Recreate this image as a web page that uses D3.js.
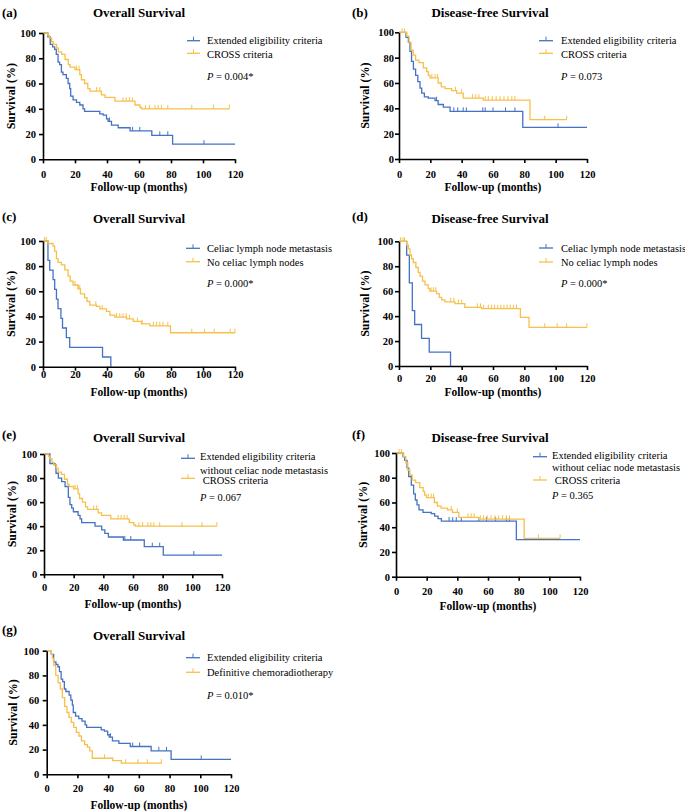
<!DOCTYPE html>
<html><head><meta charset="utf-8">
<script src="https://cdn.jsdelivr.net/npm/d3@7"></script>
<style>body{margin:0;background:#fff}svg{display:block}</style>
</head><body>
<svg id="chart" width="685" height="811"></svg>
<script>
// ---------- tick labels ----------
const xTicks = [0, 20, 40, 60, 80, 100, 120];
const yTicks = [0, 20, 40, 60, 80, 100];

// ---------- Kaplan-Meier step data (time in months, survival %) ----------
// Extended eligibility criteria, overall survival (panels a, g)
const extOS_t = [0, 3, 4.5, 6, 7.3, 8.3, 9.4, 10.4, 11.5, 12.5, 14.6, 15.7, 16.7, 17.3, 18.8, 20.9, 23, 25, 26, 35.5, 37.6, 39.7, 40.7, 42.8, 47, 54.4, 68, 81];
const extOS_s = [100, 97, 91, 89, 87, 83, 77, 75, 69, 67, 64, 60, 56, 50, 47, 45, 43, 40, 38, 36, 35, 32, 30, 27, 25, 22.5, 19, 12];
const extOS_c = [41.5, 56, 60.5, 73, 78, 100.6];
const extOS_end = 120;

// CROSS criteria, overall survival (panels a, e)
const crossOS_t = [0, 3, 4, 5.4, 6.5, 8.5, 9.6, 11.7, 13.8, 15.8, 16.9, 20, 23, 24, 26, 28, 29.4, 36.5, 38.8, 45, 57.5, 60.6, 61.7];
const crossOS_s = [100, 98, 96, 93, 91, 88, 85, 83, 79, 75, 73, 71, 67, 63, 60, 56, 54, 51, 49, 46, 43, 41, 40];
const crossOS_c = [21, 22.5, 33.5, 35.5, 50, 52, 54, 56, 64, 66.5, 70, 72, 74, 78, 93, 106.5, 116.5];
const crossOS_end = 116.5;

// Extended eligibility criteria, disease-free survival (panel b)
const extDFS_t = [0, 4.5, 6, 7, 8, 9.2, 10.6, 12, 13.4, 14.5, 16.2, 18.7, 23, 25, 28.3, 32.6, 79];
const extDFS_s = [100, 96, 92, 85, 77, 71, 66, 61, 56, 52, 49, 48, 46, 43, 41, 37.6, 25];
const extDFS_c = [24, 35, 37.5, 41, 43, 53.5, 55, 60, 68, 74, 101.5];
const extDFS_end = 120;

// CROSS criteria, disease-free survival (panels b, f)
const crossDFS_t = [0, 5, 6.4, 7.7, 9.1, 10.6, 12.8, 15.5, 17.7, 18.7, 19.8, 25, 27, 29.4, 33.6, 36.8, 41, 53.8, 83.6];
const crossDFS_s = [100, 97, 92, 86, 82, 78, 76, 72, 69, 66, 64, 60, 57, 55.5, 54, 52, 48, 46.5, 31];
const crossDFS_c = [2, 3.5, 21, 23, 24.5, 36, 40, 47, 49, 51, 55, 57, 59.5, 62, 64.5, 67, 69.5, 72, 74, 93, 107];
const crossDFS_end = 107;

// Celiac lymph node metastasis, OS (panel c)
const celOS_t = [0, 3.1, 4.2, 6.3, 7.3, 8.4, 9.4, 11.2, 12.2, 14.6, 16.7, 37.2, 42.4];
const celOS_s = [100, 84.6, 76.9, 69.2, 61.5, 53.8, 46.2, 38.5, 30.8, 23.1, 15.4, 7.7, 0];
const celOS_c = [];
const celOS_end = 42.4;

// No celiac lymph nodes, OS (panel c)
const noCelOS_t = [0, 3.1, 6.3, 7.3, 8.4, 9.4, 11.5, 13.6, 15.7, 17, 18.8, 21.9, 23.4, 26, 27.5, 29.2, 33.4, 35.5, 39.7, 41.8, 44.9, 52.2, 56.4, 61.6, 66.8, 79.7];
const noCelOS_s = [100, 98, 96, 92, 86, 83, 81, 77, 72, 68, 65, 62, 58, 55, 52, 49, 48, 46, 44, 41, 39.5, 38, 36, 34, 32.5, 27];
const noCelOS_c = [1, 2, 20, 22, 23, 33, 37, 46, 48, 50, 52, 54, 59, 62, 69, 71, 73, 75, 78, 93, 101, 107, 117, 120];
const noCelOS_end = 120;

// Celiac lymph node metastasis, DFS (panel d)
const celDFS_t = [0, 4.9, 6.6, 8.5, 10, 14.4, 19.3, 32.9];
const celDFS_s = [100, 88.9, 66.7, 44.4, 33.3, 22.2, 11.1, 0];
const celDFS_c = [];
const celDFS_end = 32.9;

// No celiac lymph nodes, DFS (panel d)
const noCelDFS_t = [0, 4.9, 6, 7, 8, 9.1, 10.8, 12.3, 13.4, 15, 16.6, 18.7, 19.7, 24, 25.7, 27.2, 29.3, 35.7, 42, 52.7, 77.5, 83];
const noCelDFS_s = [100, 97, 94, 89, 86, 83, 79, 75, 72, 68, 65, 62, 60, 58, 55, 53, 51.5, 50, 47, 46, 39, 31];
const noCelDFS_c = [1, 2.5, 3.5, 20.5, 22, 23.5, 33, 35, 38, 40, 50, 52, 54, 57, 59, 61, 63, 65, 67, 69, 71, 73, 75, 93, 101, 107, 120];
const noCelDFS_end = 120;

// Extended criteria without celiac node metastasis, OS (panel e)
const extNoCelOS_t = [0, 4, 7.4, 8.1, 9.7, 11.9, 14.2, 16.4, 17.5, 18.7, 19.8, 23, 24.3, 25.4, 34.4, 38.9, 41, 43.4, 53.5, 67.6, 80.4];
const extNoCelOS_s = [100, 92, 91, 84, 80, 77, 73, 64, 58, 55, 52, 49, 46, 43, 40, 37, 34, 31, 28.5, 23, 16];
const extNoCelOS_c = [54.5, 58.5, 73, 78, 101];
const extNoCelOS_end = 120;

// Extended criteria without celiac node metastasis, DFS (panel f)
const extNoCelDFS_t = [0, 4.6, 5.7, 7.2, 8.3, 10, 11.5, 12.6, 13.7, 15, 17.6, 23, 25.2, 27.4, 29.6, 78.5];
const extNoCelDFS_s = [100, 97, 94, 88, 81, 74, 67, 62, 58, 54, 52, 51, 49, 47, 45, 30];
const extNoCelDFS_c = [34.6, 37, 39.3, 42.6, 54, 59, 65, 72, 74];
const extNoCelDFS_end = 120;

// Definitive chemoradiotherapy, OS (panel g)
const defCRT_t = [0, 3, 3.7, 4.6, 5.9, 7.4, 8.9, 10.2, 11.7, 13.2, 14.5, 16, 17.6, 19.3, 21, 22.6, 24.7, 26.5, 28, 29.7, 43, 48.6];
const defCRT_s = [100, 97, 94, 88, 80, 74, 69, 62, 55, 50, 46, 42, 38, 34, 31, 27, 24, 22, 19, 13, 11, 9];
const defCRT_c = [37.7, 51.4, 59.4, 65.5, 74.6];
const defCRT_end = 75;

// ---------- texts ----------
const panelLabels = ["(a)", "(b)", "(c)", "(d)", "(e)", "(f)", "(g)"];
const panelTitles = ["Overall Survival", "Disease-free Survival", "Overall Survival", "Disease-free Survival", "Overall Survival", "Disease-free Survival", "Overall Survival"];
const pValues = ["0.004*", "0.073", "0.000*", "0.000*", "0.067", "0.365", "0.010*"];
const legendA = [["Extended eligibility criteria"], ["CROSS criteria"]];
const legendC = [["Celiac lymph node metastasis"], ["No celiac lymph nodes"]];
const legendE = [["Extended eligibility criteria", "without celiac node metastasis"], [" CROSS criteria"]];
const legendG = [["Extended eligibility criteria"], ["Definitive chemoradiotherapy"]];
const xTitle = "Follow-up (months)";
const yTitle = "Survival (%)";

const BLUE = "#4472C4", YELLOW = "#F8C04A";
const FONT = "'Liberation Serif','Times New Roman',serif";

function ser(t, s, c, end, color) { return { t, s, c, end, color }; }

// layout per panel
const panels = [
  { series: [ser(extOS_t, extOS_s, extOS_c, extOS_end, BLUE), ser(crossOS_t, crossOS_s, crossOS_c, crossOS_end, YELLOW)], legend: legendA,
    box: { l: 43, r: 235, t: 33, b: 159.3 }, lab: [2, 17], title: [139, 17], yl: 11, xlGap: 14.7, ylGap: 7, xt: 191,
    lg: { x0: 187, x1: 200, tx: 207, ly: [40.7, 53.3], ty: [[40.7], [54]], py: 76 } },
  { series: [ser(extDFS_t, extDFS_s, extDFS_c, extDFS_end, BLUE), ser(crossDFS_t, crossDFS_s, crossDFS_c, crossDFS_end, YELLOW)], legend: legendA,
    box: { l: 399, r: 587, t: 32.3, b: 159 }, lab: [352, 17], title: [490, 17], yl: 365, xlGap: 15, ylGap: 5, xt: 191,
    lg: { x0: 539, x1: 553, tx: 561, ly: [40.7, 53.3], ty: [[40.7], [54]], py: 76 } },
  { series: [ser(celOS_t, celOS_s, celOS_c, celOS_end, BLUE), ser(noCelOS_t, noCelOS_s, noCelOS_c, noCelOS_end, YELLOW)], legend: legendC,
    box: { l: 43, r: 235, t: 241, b: 366.7 }, lab: [2, 221], title: [139, 223], yl: 11, xlGap: 7.5, ylGap: 7, xt: 396,
    lg: { x0: 186, x1: 200, tx: 207, ly: [248.3, 261.7], ty: [[248.3], [262.5]], py: 283.3 } },
  { series: [ser(celDFS_t, celDFS_s, celDFS_c, celDFS_end, BLUE), ser(noCelDFS_t, noCelDFS_s, noCelDFS_c, noCelDFS_end, YELLOW)], legend: legendC,
    box: { l: 399, r: 587, t: 241.3, b: 366 }, lab: [352, 221], title: [490, 223], yl: 365, xlGap: 12.3, ylGap: 5.7, xt: 396,
    lg: { x0: 539, x1: 553, tx: 561, ly: [248, 262], ty: [[248], [262.5]], py: 283 } },
  { series: [ser(extNoCelOS_t, extNoCelOS_s, extNoCelOS_c, extNoCelOS_end, BLUE), ser(crossOS_t, crossOS_s, crossOS_c, crossOS_end, YELLOW)], legend: legendE,
    box: { l: 44, r: 222, t: 454, b: 574.3 }, lab: [2, 439], title: [139, 442], yl: 12, xlGap: 13.4, ylGap: 6.7, xt: 607.5,
    lg: { x0: 181, x1: 195, tx: 200, ly: [458.3, 478.3], ty: [[456.7, 470], [480.7]], py: 497 } },
  { series: [ser(extNoCelDFS_t, extNoCelDFS_s, extNoCelDFS_c, extNoCelDFS_end, BLUE), ser(crossDFS_t, crossDFS_s, crossDFS_c, crossDFS_end, YELLOW)], legend: legendE,
    box: { l: 396, r: 580, t: 453, b: 576.7 }, lab: [352, 439], title: [490, 442], yl: 363, xlGap: 15, ylGap: 6, xt: 610,
    lg: { x0: 533, x1: 547, tx: 552, ly: [456.7, 480], ty: [[455.7, 467.3], [480.7]], py: 495 } },
  { series: [ser(extOS_t, extOS_s, extOS_c, extOS_end, BLUE), ser(defCRT_t, defCRT_s, defCRT_c, defCRT_end, YELLOW)], legend: legendG,
    box: { l: 46.7, r: 231, t: 650.7, b: 774.3 }, lab: [2, 634], title: [139, 640], yl: 13, xlGap: 14, ylGap: 7.4, xt: 808.5,
    lg: { x0: 186, x1: 200, tx: 207, ly: [657.7, 672.3], ty: [[657.7], [672.3]], py: 695 } }
];

const svg = d3.select("#chart");
const TICK_FS = 10.5, LEG_FS = 10.5;

function survAt(sr, time) {
  let v = sr.s[0];
  for (let i = 0; i < sr.t.length; i++) { if (sr.t[i] <= time) v = sr.s[i]; }
  return v;
}

panels.forEach((p, pi) => {
  const B = p.box;
  const g = svg.append("g");
  const x = d3.scaleLinear().domain([0, 120]).range([B.l, B.r]);
  const y = d3.scaleLinear().domain([0, 100]).range([B.b, B.t]);

  // curves
  const line = d3.line().x(d => x(d[0])).y(d => y(d[1])).curve(d3.curveStepAfter);
  p.series.forEach(sr => {
    const pts = sr.t.map((t, i) => [t, sr.s[i]]);
    pts.push([sr.end, sr.s[sr.s.length - 1]]);
    g.append("path").attr("d", line(pts)).attr("fill", "none")
      .attr("stroke", sr.color).attr("stroke-width", 1.3);
    g.selectAll(null).data(sr.c).enter().append("line")
      .attr("x1", d => x(d)).attr("x2", d => x(d))
      .attr("y1", d => y(survAt(sr, d))).attr("y2", d => y(survAt(sr, d)) - 4)
      .attr("stroke", sr.color).attr("stroke-width", 1);
  });

  // axes
  const tickSize = 4;
  const xa = d3.axisBottom(x).tickValues(xTicks).tickSize(tickSize).tickSizeOuter(0)
    .tickPadding(p.xlGap - tickSize - TICK_FS * 0.36);
  const ya = d3.axisLeft(y).tickValues(yTicks).tickSize(tickSize).tickSizeOuter(0)
    .tickPadding(p.ylGap - tickSize);
  [g.append("g").attr("transform", `translate(0,${B.b})`).call(xa),
   g.append("g").attr("transform", `translate(${B.l},0)`).call(ya)].forEach(ax => {
    ax.select(".domain").attr("stroke", "#000").attr("stroke-width", 1.6);
    ax.selectAll(".tick line").attr("stroke", "#000").attr("stroke-width", 1.6);
    ax.selectAll(".tick text").attr("fill", "#000").attr("font-family", FONT)
      .attr("font-weight", "bold").attr("font-size", TICK_FS);
  });

  // panel label and title
  g.append("text").attr("x", p.lab[0]).attr("y", p.lab[1]).text(panelLabels[pi])
    .attr("font-family", FONT).attr("font-weight", "bold").attr("font-size", 13);
  g.append("text").attr("x", p.title[0]).attr("y", p.title[1]).attr("text-anchor", "middle").text(panelTitles[pi])
    .attr("font-family", FONT).attr("font-weight", "bold").attr("font-size", 13);

  // axis titles
  g.append("text").attr("x", (B.l + B.r) / 2).attr("y", p.xt).attr("text-anchor", "middle").text(xTitle)
    .attr("font-family", FONT).attr("font-weight", "bold").attr("font-size", 11.5);
  g.append("text").attr("transform", `translate(${p.yl + 4},${(B.t + B.b) / 2}) rotate(-90)`)
    .attr("text-anchor", "middle").text(yTitle)
    .attr("font-family", FONT).attr("font-weight", "bold").attr("font-size", 12);

  // legend
  const L = p.lg;
  p.legend.forEach((lines, i) => {
    const col = p.series[i].color;
    g.append("line").attr("x1", L.x0).attr("x2", L.x1).attr("y1", L.ly[i]).attr("y2", L.ly[i])
      .attr("stroke", col).attr("stroke-width", 1.3);
    const mx = (L.x0 + L.x1) / 2;
    g.append("line").attr("x1", mx).attr("x2", mx).attr("y1", L.ly[i]).attr("y2", L.ly[i] - 4)
      .attr("stroke", col).attr("stroke-width", 1);
    lines.forEach((str, j) => {
      g.append("text").attr("x", L.tx).attr("y", L.ty[i][j] + LEG_FS * 0.34).text(str)
        .attr("font-family", FONT).attr("font-size", LEG_FS).attr("xml:space", "preserve")
        .style("white-space", "pre");
    });
  });
  const pt = g.append("text").attr("x", L.tx).attr("y", L.py + LEG_FS * 0.34)
    .attr("font-family", FONT).attr("font-size", LEG_FS);
  pt.append("tspan").attr("font-style", "italic").text("P");
  pt.append("tspan").text(" = " + pValues[pi]);
});
</script>
</body></html>
